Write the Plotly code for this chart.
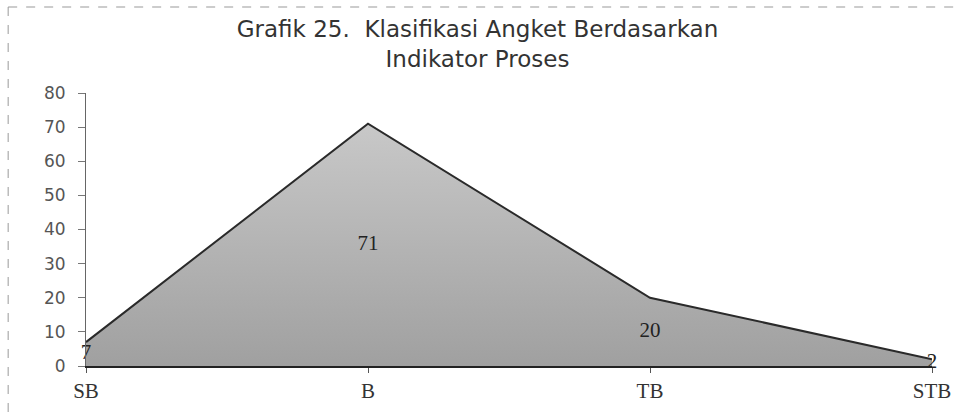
import plotly.graph_objects as go

categories = ["SB", "B", "TB", "STB"]
values = [7, 71, 20, 2]
y_ticks = [0, 10, 20, 30, 40, 50, 60, 70, 80]

fig = go.Figure()
fig.add_trace(go.Scatter(
    x=categories, y=values, mode="lines", fill="tozeroy",
    line=dict(color="#2a2a2a", width=2),
    fillgradient=dict(type="vertical",
                      colorscale=[[0, "#a0a0a0"], [1, "#c8c8c8"]]),
    hoverinfo="skip", showlegend=False, cliponaxis=False,
))
# data labels at half the value (centre of area)
fig.add_trace(go.Scatter(
    x=categories, y=[v / 2 for v in values], mode="text",
    text=[str(v) for v in values],
    textfont=dict(family="Liberation Serif", size=21, color="#222"),
    textposition="middle center", showlegend=False, hoverinfo="skip",
    cliponaxis=False,
))

fig.update_layout(
    width=955, height=417,
    margin=dict(l=86, r=23, t=93, b=51, autoexpand=False),
    paper_bgcolor="white", plot_bgcolor="white",
    title=dict(text="Grafik 25.  Klasifikasi Angket Berdasarkan<br>Indikator Proses",
               x=0.5, xanchor="center", y=0.912, yanchor="top",
               font=dict(family="DejaVu Sans", size=23, color="#333")),
    xaxis=dict(type="category", range=[0, 3], showgrid=False, automargin=False,
               showline=True, linecolor="#222", linewidth=2,
               ticks="outside", ticklen=5, tickcolor="#555",
               tickfont=dict(family="Liberation Serif", size=21, color="#333")),
    yaxis=dict(range=[0, 80], tickvals=y_ticks, showgrid=False, zeroline=False,
               automargin=False,
               showline=True, linecolor="#666", linewidth=1,
               ticks="outside", ticklen=7, tickcolor="#777",
               ticklabelstandoff=9,
               tickfont=dict(family="DejaVu Sans", size=17, color="#555")),
    shapes=[
        dict(type="line", xref="paper", yref="paper", x0=-0.092, x1=1.03,
             y0=1.315, y1=1.315, line=dict(color="#999", width=1, dash="dash")),
        dict(type="line", xref="paper", yref="paper", x0=-0.092, x1=-0.092,
             y0=1.315, y1=-0.2, line=dict(color="#999", width=1, dash="dash")),
    ],
)

fig.write_html(
    "out.html",
    config={"displayModeBar": False},
    post_script="document.body.style.margin='0';document.body.style.overflow='hidden';",
)
